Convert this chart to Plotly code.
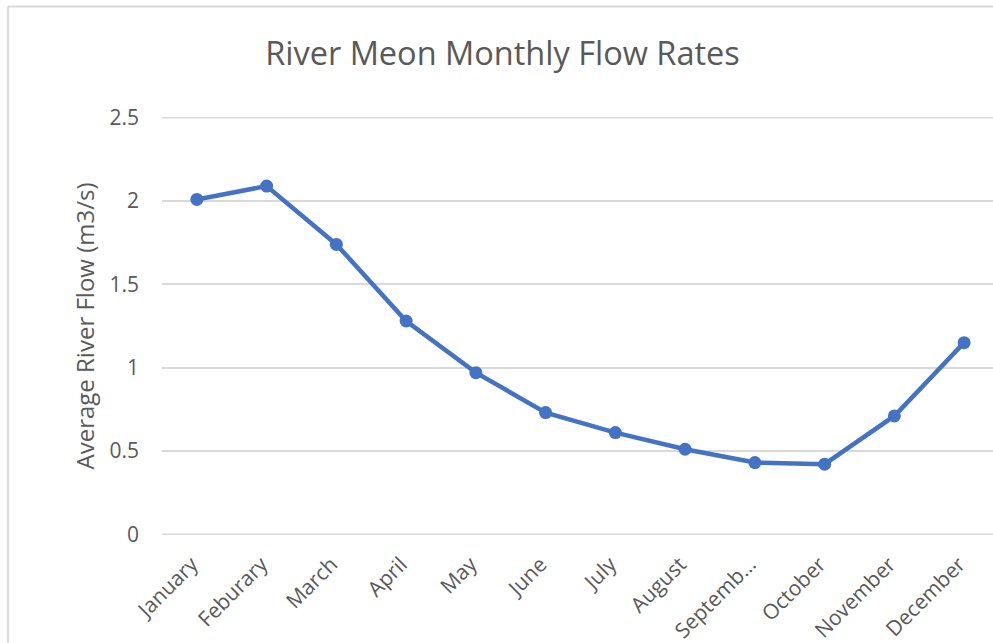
import plotly.graph_objects as go

months = ["January", "Feburary", "March", "April", "May", "June", "July",
          "August", "September", "October", "November", "December"]
tick_labels = ["January", "Feburary", "March", "April", "May", "June", "July",
               "August", "Septemb…", "October", "November", "December"]
flow = [2.01, 2.09, 1.74, 1.28, 0.97, 0.73, 0.61, 0.51, 0.43, 0.42, 0.71, 1.15]
y_ticks = [0, 0.5, 1, 1.5, 2, 2.5]
y_tick_labels = ["0", "0.5", "1", "1.5", "2", "2.5"]

FONT = "Open Sans"
GREY = "#595959"
GRID = "#d9d9d9"
W, H = 993, 643
L, T, B = 162, 117, 108
PW, PH = W - L, H - T - B

fig = go.Figure()
fig.add_trace(go.Scatter(
    x=list(range(len(months))), y=flow, mode="lines+markers",
    line=dict(color="#4472C4", width=4.5),
    marker=dict(color="#4472C4", size=13),
    hovertext=months,
))

shapes = [
    dict(type="line", xref="paper", yref="y", x0=0, x1=1, y0=v, y1=v,
         layer="below", line=dict(color=GRID, width=1.5))
    for v in (y_ticks[0], y_ticks[-1])
]
shapes += [
    dict(type="line", xref="paper", yref="paper", x0=(8 - L) / PW, x1=(W + 5 - L) / PW,
         y0=1 + (T - 6.5) / PH, y1=1 + (T - 6.5) / PH,
         line=dict(color=GRID, width=2)),
    dict(type="line", xref="paper", yref="paper", x0=(8 - L) / PW, x1=(8 - L) / PW,
         y0=-(B + 5) / PH, y1=1 + (T - 6.5) / PH,
         line=dict(color=GRID, width=2)),
]

fig.update_layout(
    width=W, height=H,
    margin=dict(l=L, r=0, t=T, b=B, pad=0),
    paper_bgcolor="white", plot_bgcolor="white",
    showlegend=False,
    font=dict(family=FONT, color=GREY),
    title=dict(text="River Meon Monthly Flow Rates", x=502.5 / W, xanchor="center",
               y=1 - 53.5 / H, yanchor="middle",
               font=dict(family=FONT, size=32.5, color=GREY)),
    xaxis=dict(range=[-0.5, 11.414], tickmode="array",
               tickvals=list(range(len(months))), ticktext=tick_labels,
               tickangle=-45, showgrid=False, zeroline=False, showline=False,
               ticks="", ticklabelstandoff=12, ticklabelshift=-5,
               tickfont=dict(size=21, color=GREY)),
    yaxis=dict(range=[-0.005, 2.505], tickmode="array", tickvals=y_ticks,
               ticktext=y_tick_labels, showgrid=True, gridcolor=GRID,
               gridwidth=1.5, zeroline=False, showline=False, ticks="",
               ticklabelstandoff=22,
               tickfont=dict(size=21, color=GREY),
               title=dict(text="Average River Flow (m3/s)",
                          font=dict(size=24, color=GREY), standoff=8)),
    shapes=shapes,
)

fig.write_html("out.html", config={"displayModeBar": False},
               post_script="document.body.style.margin='0';")
